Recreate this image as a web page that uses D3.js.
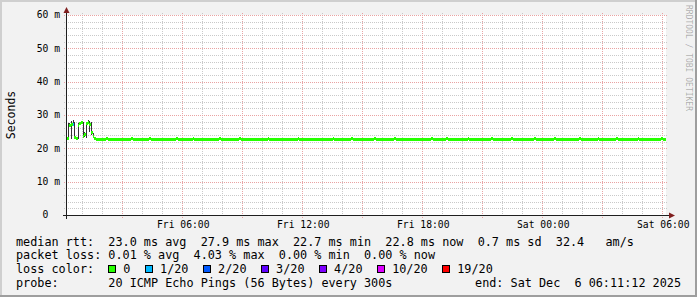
<!DOCTYPE html>
<html>
<head>
<meta charset="utf-8">
<script src="https://cdn.jsdelivr.net/npm/d3@7"></script>
<style>
html, body { margin: 0; padding: 0; background: #f2f2f2; }
svg { display: block; }
text { font-family: "DejaVu Sans Mono", monospace; fill: #000; white-space: pre; }
</style>
</head>
<body>
<div class="c-svg"></div>
<script>
//DATA
//-------------------------------------------------------------------------

//time frame of the graph (300s steps, 30 hours)
const startTime = new Date(Date.UTC(2025, 11, 5, 0, 11, 12));
const endTime = new Date(Date.UTC(2025, 11, 6, 6, 11, 12));
const stepSeconds = 300;

//y ticks in ms
const yMajorTicks = [0, 10, 20, 30, 40, 50, 60];

//first 90 minutes : bimodal pings, visible smoke
const earlyMedian = [22.9, 23.0, 27.0, 27.2, 27.1, 23.4, 23.0, 26.9, 27.6, 27.8, 23.7, 24.2, 27.5, 27.9, 27.3, 24.9, 23.6, 22.9];
const earlyLow    = [22.7, 22.8, 26.5, 22.9, 26.6, 22.9, 22.7, 22.8, 27.1, 27.4, 23.1, 23.5, 23.2, 27.6, 24.9, 24.0, 23.2, 22.7];
const earlyHigh   = [23.2, 27.6, 27.5, 28.3, 28.5, 27.8, 23.4, 27.5, 28.0, 28.1, 27.9, 24.8, 27.9, 28.6, 28.2, 27.8, 24.6, 23.3];
const earlyLoss   = [0, 0, 0, 0, 1, 0, 0, 0, 0, 0, 0, 0, 0, 0, 0, 0, 0, 0];

//rest of the period : steady median around 22.8 ms, no loss
const steadyMedian = [
22.8,22.8,22.7,22.8,22.8,22.8,22.9,22.8,22.8,22.7,22.8,22.8,22.8,22.8,22.8,22.7,22.7,22.8,22.8,
22.8,22.8,22.9,22.8,22.8,22.8,22.8,22.7,22.8,22.8,22.8,22.8,22.8,22.9,22.8,22.8,22.8,22.7,22.8,
22.8,22.8,22.8,22.8,22.7,22.7,22.8,22.8,22.8,22.8,22.9,22.8,22.8,22.8,22.8,22.7,22.8,22.8,22.8,
22.8,22.9,22.8,22.8,22.8,22.7,22.8,22.8,22.8,22.8,22.8,22.8,22.8,22.7,22.8,22.8,22.8,22.9,22.8,
22.8,22.8,22.8,22.7,22.7,22.8,22.8,22.8,22.8,22.8,22.9,22.8,22.8,22.8,22.8,22.7,22.8,22.8,22.8,
22.8,22.8,22.8,22.8,22.8,22.7,22.8,22.8,22.9,22.8,22.8,22.8,22.7,22.8,22.8,22.8,22.8,22.8,22.8,
22.7,22.8,22.8,22.8,22.8,22.8,22.8,22.9,22.8,22.8,22.7,22.7,22.8,22.8,22.8,22.8,22.8,22.8,22.8,
22.8,22.8,22.7,22.8,22.8,22.8,22.8,22.8,22.8,22.9,22.8,22.8,22.8,22.8,22.7,22.8,22.8,22.8,22.8,
22.8,22.9,22.8,22.8,22.7,22.8,22.8,22.8,22.8,22.8,22.8,22.8,22.7,22.8,22.8,22.9,22.8,22.8,22.8,
22.8,22.8,22.8,22.7,22.8,22.8,22.8,22.8,22.9,22.8,22.8,22.8,22.8,22.8,22.7,22.8,22.8,22.8,22.8,
22.8,22.8,22.8,22.8,22.8,22.7,22.7,22.8,22.8,22.8,22.8,22.9,22.8,22.8,22.8,22.8,22.8,22.7,22.8,
22.8,22.9,22.8,22.8,22.8,22.8,22.8,22.7,22.8,22.8,22.8,22.8,22.8,22.8,22.9,22.8,22.8,22.7,22.8,
22.8,22.8,22.8,22.8,22.7,22.8,22.8,22.8,22.8,22.9,22.8,22.8,22.8,22.7,22.8,22.8,22.8,22.8,22.8,
22.8,22.8,22.9,22.8,22.8,22.8,22.7,22.8,22.8,22.8,22.8,22.8,22.8,22.8,22.7,22.8,22.9,22.8,22.8,
22.8,22.8,22.8,22.7,22.8,22.8,22.8,22.8,22.8,22.9,22.8,22.8,22.7,22.8,22.8,22.8,22.8,22.8,22.8,
22.8,22.7,22.8,22.8,22.8,22.9,22.8,22.8,22.8,22.8,22.8,22.7,22.8,22.8,22.8,22.8,22.9,22.8,22.8,
22.8,22.8,22.8,22.8,22.7,22.8,22.8,22.8,22.9,22.8,22.8,22.8,22.8,22.7,22.8,22.8,22.8,22.8,22.8,
22.8,22.8,22.9,22.8,22.8,22.7,22.8,22.8,22.8,22.8,22.8,22.8,22.7,22.8,22.8,22.8,22.9,22.8,22.8
];

//loss color legend
const lossLevels = [0, 1, 2, 3, 4, 10, 19];
const lossLabels = ["0", "1/20", "2/20", "3/20", "4/20", "10/20", "19/20"];
const lossColors = ["#26ff00", "#00b8ff", "#0059ff", "#5e00ff", "#7e00ff", "#dd00ff", "#ff0000"];

//legend texts
const legendRtt = "median rtt:  23.0 ms avg  27.9 ms max  22.7 ms min  22.8 ms now  0.7 ms sd  32.4   am/s";
const legendLoss = "packet loss: 0.01 % avg  4.03 % max  0.00 % min  0.00 % now";
const legendLossTitle = "loss color:";
const legendProbe = "probe:       20 ICMP Echo Pings (56 Bytes) every 300s";
const legendEnd = "end: Sat Dec  6 06:11:12 2025";


//INITIALISATION
//-------------------------------------------------------------------------

const opts = {
	width: 697,
	height: 297,
	plot: { left: 66, top: 15, width: 600, height: 200 },
	colors: {
		back: "#f2f2f2",
		canvas: "#ffffff",
		shadeA: "#cfcfcf",
		shadeB: "#9e9e9e",
		grid: "#c9c9c9",
		mgrid: "#e9a3a3",
		axis: "#1f1f1f",
		arrow: "#801f1f",
		smoke: "#333333"
	}
};

//one table of all steps
const rows = earlyMedian.map((m, i) => ({
	median: m, low: earlyLow[i], high: earlyHigh[i], loss: earlyLoss[i]
})).concat(steadyMedian.map(m => ({ median: m, low: null, high: null, loss: 0 })));
rows.forEach((d, i) => {
	d.t0 = new Date(startTime.getTime() + i * stepSeconds * 1000);
	d.t1 = new Date(startTime.getTime() + (i + 1) * stepSeconds * 1000);
});

const svg = d3.select(".c-svg")
	.append("svg")
	.attr("width", opts.width)
	.attr("height", opts.height);

const x = d3.scaleUtc()
	.domain([startTime, endTime])
	.range([opts.plot.left, opts.plot.left + opts.plot.width]);

const y = d3.scaleLinear()
	.domain([0, 60])
	.range([opts.plot.top + opts.plot.height, opts.plot.top]);

const px = v => Math.round(v) + 0.5;
const lossColor = l => lossColors[d3.bisectRight(lossLevels, l) - 1];


//FRAME
//-------------------------------------------------------------------------
svg.append("rect")
	.attr("width", opts.width).attr("height", opts.height)
	.attr("fill", opts.colors.back);

//3d shade
svg.append("path")
	.attr("d", `M0,${opts.height} V0 H${opts.width} V2 H2 V${opts.height} Z`)
	.attr("fill", opts.colors.shadeA);
svg.append("path")
	.attr("d", `M${opts.width},0 V${opts.height} H0 V${opts.height - 2} H${opts.width - 2} V0 Z`)
	.attr("fill", opts.colors.shadeB);

svg.append("rect")
	.attr("x", opts.plot.left).attr("y", opts.plot.top)
	.attr("width", opts.plot.width).attr("height", opts.plot.height)
	.attr("fill", opts.colors.canvas);


//GRID
//-------------------------------------------------------------------------
const grid = svg.append("g")
	.attr("class", "grid")
	.attr("stroke-dasharray", "1,1")
	.attr("shape-rendering", "crispEdges");

const yMinor = d3.range(0, 61, 2).filter(v => v % 10 !== 0);
grid.selectAll(".y-minor")
	.data(yMinor)
	.join("line")
	.attr("x1", opts.plot.left - 2).attr("x2", opts.plot.left + opts.plot.width + 2)
	.attr("y1", d => px(y(d))).attr("y2", d => px(y(d)))
	.attr("stroke", opts.colors.grid);

const hours = d3.utcHour.range(startTime, endTime);
grid.selectAll(".x-minor")
	.data(hours.filter(h => h.getUTCHours() % 3 !== 0))
	.join("line")
	.attr("x1", d => px(x(d))).attr("x2", d => px(x(d)))
	.attr("y1", opts.plot.top - 2).attr("y2", opts.plot.top + opts.plot.height + 2)
	.attr("stroke", opts.colors.grid);

grid.selectAll(".y-major")
	.data(yMajorTicks.filter(v => v > 0))
	.join("line")
	.attr("x1", opts.plot.left - 2).attr("x2", opts.plot.left + opts.plot.width + 2)
	.attr("y1", d => px(y(d))).attr("y2", d => px(y(d)))
	.attr("stroke", opts.colors.mgrid);

grid.selectAll(".x-major")
	.data(hours.filter(h => h.getUTCHours() % 3 === 0))
	.join("line")
	.attr("x1", d => px(x(d))).attr("x2", d => px(x(d)))
	.attr("y1", opts.plot.top - 2).attr("y2", opts.plot.top + opts.plot.height + 3)
	.attr("stroke", opts.colors.mgrid);


//SMOKE & MEDIAN
//-------------------------------------------------------------------------
const marks = svg.append("g")
	.attr("shape-rendering", "crispEdges");

//smoke is drawn as thin 1px strokes, like the rrd renders at this scale
marks.selectAll(".smoke")
	.data(rows.filter(d => d.low !== null))
	.join("rect")
	.attr("class", "smoke")
	.attr("x", d => Math.round(x(d.t0)))
	.attr("width", 1)
	.attr("y", d => y(d.high))
	.attr("height", d => y(d.low) - y(d.high))
	.attr("fill", opts.colors.smoke);

marks.selectAll(".median")
	.data(rows)
	.join("rect")
	.attr("class", "median")
	.attr("x", d => x(d.t0))
	.attr("width", d => x(d.t1) - x(d.t0))
	.attr("y", d => y(d.median) - 1.5)
	.attr("height", 3)
	.attr("fill", d => lossColor(d.loss));


//AXIS
//-------------------------------------------------------------------------
const axisY0 = px(y(0));
const axisX0 = px(opts.plot.left);

svg.append("line")
	.attr("x1", opts.plot.left - 3).attr("x2", opts.plot.left + opts.plot.width + 3)
	.attr("y1", axisY0).attr("y2", axisY0)
	.attr("stroke", opts.colors.axis);
svg.append("line")
	.attr("x1", axisX0).attr("x2", axisX0)
	.attr("y1", opts.plot.top - 2).attr("y2", opts.plot.top + opts.plot.height + 4)
	.attr("stroke", opts.colors.axis);

//arrows
const xEnd = opts.plot.left + opts.plot.width;
svg.append("path")
	.attr("d", `M${xEnd + 3},${axisY0 - 3} L${xEnd + 9},${axisY0} L${xEnd + 3},${axisY0 + 3} Z`)
	.attr("fill", opts.colors.arrow);
svg.append("path")
	.attr("d", `M${axisX0 - 3},${opts.plot.top - 2} L${axisX0},${opts.plot.top - 8} L${axisX0 + 3},${opts.plot.top - 2} Z`)
	.attr("fill", opts.colors.arrow);

//tick labels
svg.append("g")
	.selectAll("text")
	.data(yMajorTicks)
	.join("text")
	.attr("x", d => d === 0 ? 60 - 2 * 5.85 : 60)
	.attr("y", d => y(d))
	.attr("dy", "0.35em")
	.attr("text-anchor", "end")
	.style("font-size", "9.7px")
	.text(d => d === 0 ? "0" : `${d} m`);

const timeFormat = d3.utcFormat("%a %H:%M");
svg.append("g")
	.selectAll("text")
	.data(d3.utcHour.every(6).range(startTime, endTime))
	.join("text")
	.attr("x", d => x(d) + 1)
	.attr("y", 227.8)
	.attr("text-anchor", "middle")
	.style("font-size", "9.7px")
	.text(d => timeFormat(d));

//axis title
svg.append("text")
	.attr("transform", `translate(14.5 ${opts.plot.top + opts.plot.height / 2}) rotate(-90)`)
	.attr("text-anchor", "middle")
	.style("font-size", "11.5px")
	.text("Seconds");

//watermark
svg.append("text")
	.attr("transform", "translate(686 5) rotate(90)")
	.style("font-size", "8px")
	.style("fill", "rgba(0,0,0,0.3)")
	.text("RRDTOOL / TOBI OETIKER");


//LEGEND
//-------------------------------------------------------------------------
const legend = svg.append("g")
	.style("font-size", "11.8px");

const lineY = [245.5, 259.3, 273.1, 286.9];
const legendX = 16;

legend.append("text").attr("x", legendX).attr("y", lineY[0]).text(legendRtt);
legend.append("text").attr("x", legendX).attr("y", lineY[1]).text(legendLoss);
legend.append("text").attr("x", legendX).attr("y", lineY[3]).text(legendProbe);
legend.append("text").attr("x", 681).attr("y", lineY[3]).attr("text-anchor", "end").text(legendEnd);

const title = legend.append("text").attr("x", legendX).attr("y", lineY[2]).text(legendLossTitle);
const charW = title.node().getComputedTextLength() / legendLossTitle.length;

let cx = legendX + 13 * charW;
lossLabels.forEach((label, i) => {
	legend.append("rect")
		.attr("x", Math.round(cx) + 0.5).attr("y", 265.5)
		.attr("width", 7).attr("height", 7)
		.attr("fill", lossColors[i])
		.attr("stroke", "#000");
	const t = legend.append("text")
		.attr("x", cx + 15).attr("y", lineY[2])
		.text(label);
	cx = cx + 15 + t.node().getComputedTextLength() + 14.6;
});
</script>
</body>
</html>
